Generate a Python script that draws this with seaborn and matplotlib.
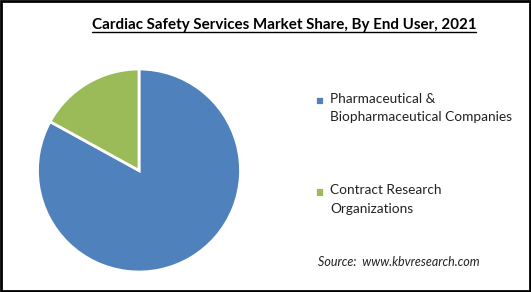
import matplotlib
matplotlib.use("Agg")
import matplotlib.pyplot as plt
import seaborn as sns
from matplotlib.lines import Line2D
from matplotlib.patches import Rectangle
from matplotlib.legend_handler import HandlerPatch

title = "Cardiac Safety Services Market Share, By End User, 2021"
categories = ["Pharmaceutical &\nBiopharmaceutical Companies",
              "Contract Research\nOrganizations"]
shares = [83, 17]
colors = ["#4F81BD", "#9BBB59"]
source = "Source:  www.kbvresearch.com"

sns.set_theme(style="white")
plt.rcParams['font.family'] = ['Lato', 'DejaVu Sans']

W, H = 531, 292
fig = plt.figure(figsize=(W / 100, H / 100), dpi=100)
fig.patch.set_facecolor("white")

ax = fig.add_axes([(139 - 101.5) / W, (H - 170.5 - 101.5) / H, 203 / W, 203 / H])
wedges, _ = ax.pie(shares, colors=sns.color_palette(colors), startangle=90,
                   counterclock=False,
                   wedgeprops=dict(edgecolor="white", linewidth=2.0))
ax.set_xlim(-1.0, 1.0)
ax.set_ylim(-1.0, 1.0)
ax.set_aspect("equal")


def top_square(legend, orig_handle, xdescent, ydescent, width, height, fontsize):
    return Rectangle((-xdescent, -ydescent + 5.6), width, height)


leg = fig.legend(wedges, categories, loc="upper left",
                 bbox_to_anchor=(315 / W, 1 - 93 / H), frameon=False,
                 fontsize=9.8, handlelength=0.65, handleheight=0.65,
                 handletextpad=0.45, labelspacing=4.5, borderpad=0, borderaxespad=0,
                 handler_map={w: HandlerPatch(patch_func=top_square) for w in wedges})
for t in leg.get_texts():
    t.set_linespacing(1.62)
    t.set_color("#222222")

tt = fig.text(284 / W, 1 - 29 / H, title, ha="center", va="baseline",
              fontsize=10.9, fontweight="bold", color="black")
fig.canvas.draw()
bb = tt.get_window_extent()
uy = 1 - 32 / H
fig.add_artist(Line2D([bb.x0 / W, bb.x1 / W], [uy, uy], color="black", lw=1.0,
                      transform=fig.transFigure))

fig.text(318 / W, 1 - 266 / H, source, ha="left", va="baseline",
         fontsize=9, fontstyle="italic", color="#222222")

fig.add_artist(Rectangle((0.002, 0.003), 0.996, 0.994, fill=False,
                         edgecolor="black", lw=2.0, transform=fig.transFigure))

fig.savefig("out.png", dpi=100)
